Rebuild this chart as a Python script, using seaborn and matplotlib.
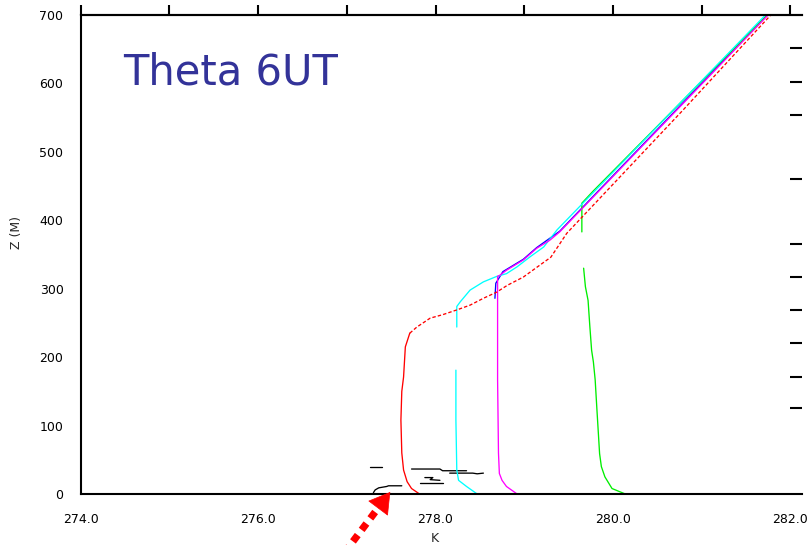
import numpy as np
import pandas as pd
import matplotlib
matplotlib.use("Agg")
import matplotlib.pyplot as plt
import seaborn as sns

# ---------------- data ----------------
nan = np.nan
# red: lower part solid, upper part dashed (NaN = segment break)
red_theta = [277.82, 277.73, 277.68, 277.64, 277.62, 277.61, 277.62, 277.64, 277.66, 277.71,
             nan,
             277.71, 277.79, 277.94, 278.08, 278.24, 278.39, 278.54, 278.69, 278.81, 278.99,
             279.15, 279.30, 279.48, 280.79, 281.78]
red_z = [0, 8, 18, 35, 60, 108, 150, 171, 215, 235,
         nan,
         235, 244, 257, 262, 269, 276, 286, 295, 305, 317,
         332, 346, 381, 561, 700]
red_styles = ["-", (0, (2.6, 1.6))]

cyan_theta = [278.47, 278.35, 278.26, 278.24, 278.23, 278.23, nan,
              278.24, 278.24, 278.28, 278.39, 278.54, 278.69, 278.80, 278.92, 279.07,
              279.22, 279.37, 281.72]
cyan_z = [0, 11, 20, 35, 108, 181, nan,
          244, 274, 281, 298, 310, 318, 322, 332, 347,
          361, 386, 700]

magenta_theta = [278.92, 278.80, 278.75, 278.72, 278.71, 278.70, 278.70, 278.73, 278.80,
                 278.99, 279.14, 279.29, 279.40, 281.75]
magenta_z = [0, 11, 20, 30, 60, 167, 318, 320, 327, 342, 359, 371, 383, 700]

blue_theta = [278.67, 278.68, 278.76, 278.99, 279.14, 279.40, 281.74]
blue_z = [286, 308, 325, 343, 360, 384, 700]

green_theta = [280.14, 279.99, 279.91, 279.87, 279.85, 279.82, 279.80, 279.78, 279.76,
               279.74, 279.72, 279.69, 279.67, nan,
               279.65, 279.65, 279.78, 281.74]
green_z = [0, 8, 25, 40, 59, 123, 167, 193, 210, 245, 283, 303, 330, nan,
           383, 425, 443, 700]

black_theta = [277.30, 277.32, 277.36, 277.45, 277.47, 277.62, nan,
               277.83, 278.09, nan,
               277.88, 277.97, 277.94, 278.05, nan,
               277.73, 278.05, 278.08, 278.35, nan,
               278.16, 278.42, 278.47, 278.54, nan,
               277.26, 277.40]
black_z = [2, 6, 9, 11, 12, 12, nan,
           16, 16, nan,
           24, 24, 21, 20, nan,
           36.5, 36.5, 34, 34, nan,
           30.5, 30.5, 29.5, 30.5, nan,
           40, 40]

x_ticks = [274, 275, 276, 277, 278, 279, 280, 281, 282]
y_ticks = [0, 50, 100, 150, 200, 250, 300, 350, 400, 450, 500, 550, 600, 650, 700]
right_ticks = [126, 171, 221, 269, 317, 365, 460, 554, 602, 652]

arrow_tip = (277.49, 3)

series = [
    ("black", black_theta, black_z, "black"),
    ("blue", blue_theta, blue_z, "#0000ff"),
    ("green", green_theta, green_z, "#00ee00"),
    ("cyan", cyan_theta, cyan_z, "#00ffff"),
    ("magenta", magenta_theta, magenta_z, "#ff00ff"),
    ("red", red_theta, red_z, "#ff0000"),
]


def to_frame(name, xs, zs):
    rows, seg = [], 0
    for x, z in zip(xs, zs):
        if np.isnan(x):
            seg += 1
            continue
        rows.append({"series": name, "seg": seg, "theta": x, "z": z})
    return pd.DataFrame(rows)


# ---------------- figure ----------------
sns.set_theme(style="white")
plt.rcParams["font.family"] = ["DejaVu Sans"]

fig = plt.figure(figsize=(8.12, 5.45), dpi=100)
ax = fig.add_axes([80.7 / 812, 51 / 545, 721.3 / 812, 479 / 545])
ax.set_facecolor("white")

for name, xs, zs, col in series:
    df = to_frame(name, xs, zs)
    if name == "red":
        for seg, sub in df.groupby("seg"):
            sns.lineplot(data=sub, x="theta", y="z", estimator=None, sort=False,
                         color=col, lw=0.95, linestyle=red_styles[seg], ax=ax)
    else:
        sns.lineplot(data=df, x="theta", y="z", units="seg", estimator=None,
                     sort=False, color=col, lw=0.95, ax=ax)

ax.set_xlim(274, 274 + 721.3 / 88.7)
ax.set_ylim(0, 700)

ax.set_xticks(x_ticks)
ax.set_xticklabels([f"{v:.1f}" if v % 2 == 0 else "" for v in x_ticks])
ax.set_yticks(y_ticks)
ax.set_yticklabels([str(v) if v % 100 == 0 else "" for v in y_ticks])
ax.tick_params(axis="both", direction="out", length=9.4, width=1.5,
               labelsize=9, colors="black")
ax.tick_params(axis="x", pad=4)
ax.tick_params(axis="y", pad=3)

for s in ["left", "bottom", "top"]:
    ax.spines[s].set_visible(True)
    ax.spines[s].set_color("black")
    ax.spines[s].set_linewidth(1.5)
ax.spines["right"].set_visible(False)

# top ticks (outward, shorter)
secx = ax.secondary_xaxis("top")
secx.set_xticks(x_ticks)
secx.set_xticklabels([])
secx.tick_params(direction="out", length=7, width=1.5, colors="black")
for sp in secx.spines.values():
    sp.set_linewidth(1.5)
    sp.set_color("black")

# right ticks (inward, no spine)
secy = ax.secondary_yaxis("right")
secy.set_yticks(right_ticks)
secy.set_yticklabels([])
secy.tick_params(direction="in", length=8.6, width=1.5, colors="black")
for sp in secy.spines.values():
    sp.set_visible(False)

ax.set_xlabel("K", fontsize=9)
ax.set_ylabel("Z (M)", fontsize=9)
ax.xaxis.set_label_coords(0.491, -0.079)
ax.yaxis.set_label_coords(-0.08, 0.545)

ax.text(0.0586, 0.854, "Theta 6UT", transform=ax.transAxes, fontsize=30,
        color="#333399", va="baseline", ha="left")

# dotted red arrow pointing at the surface layer
ax.annotate("", xy=arrow_tip, xytext=(-46, -61), textcoords="offset pixels",
            arrowprops=dict(arrowstyle="-", color="red", lw=5.2,
                            linestyle=(0, (1.1, 0.9)), shrinkA=0, shrinkB=13,
                            capstyle="butt"),
            annotation_clip=False)
ax.annotate("", xy=arrow_tip, xytext=(-12, -16), textcoords="offset pixels",
            arrowprops=dict(arrowstyle="-|>,head_length=0.7,head_width=0.42",
                            color="red", lw=0.5, mutation_scale=20,
                            shrinkA=0, shrinkB=0),
            annotation_clip=False)

fig.savefig("out.png", dpi=100, facecolor="white")
